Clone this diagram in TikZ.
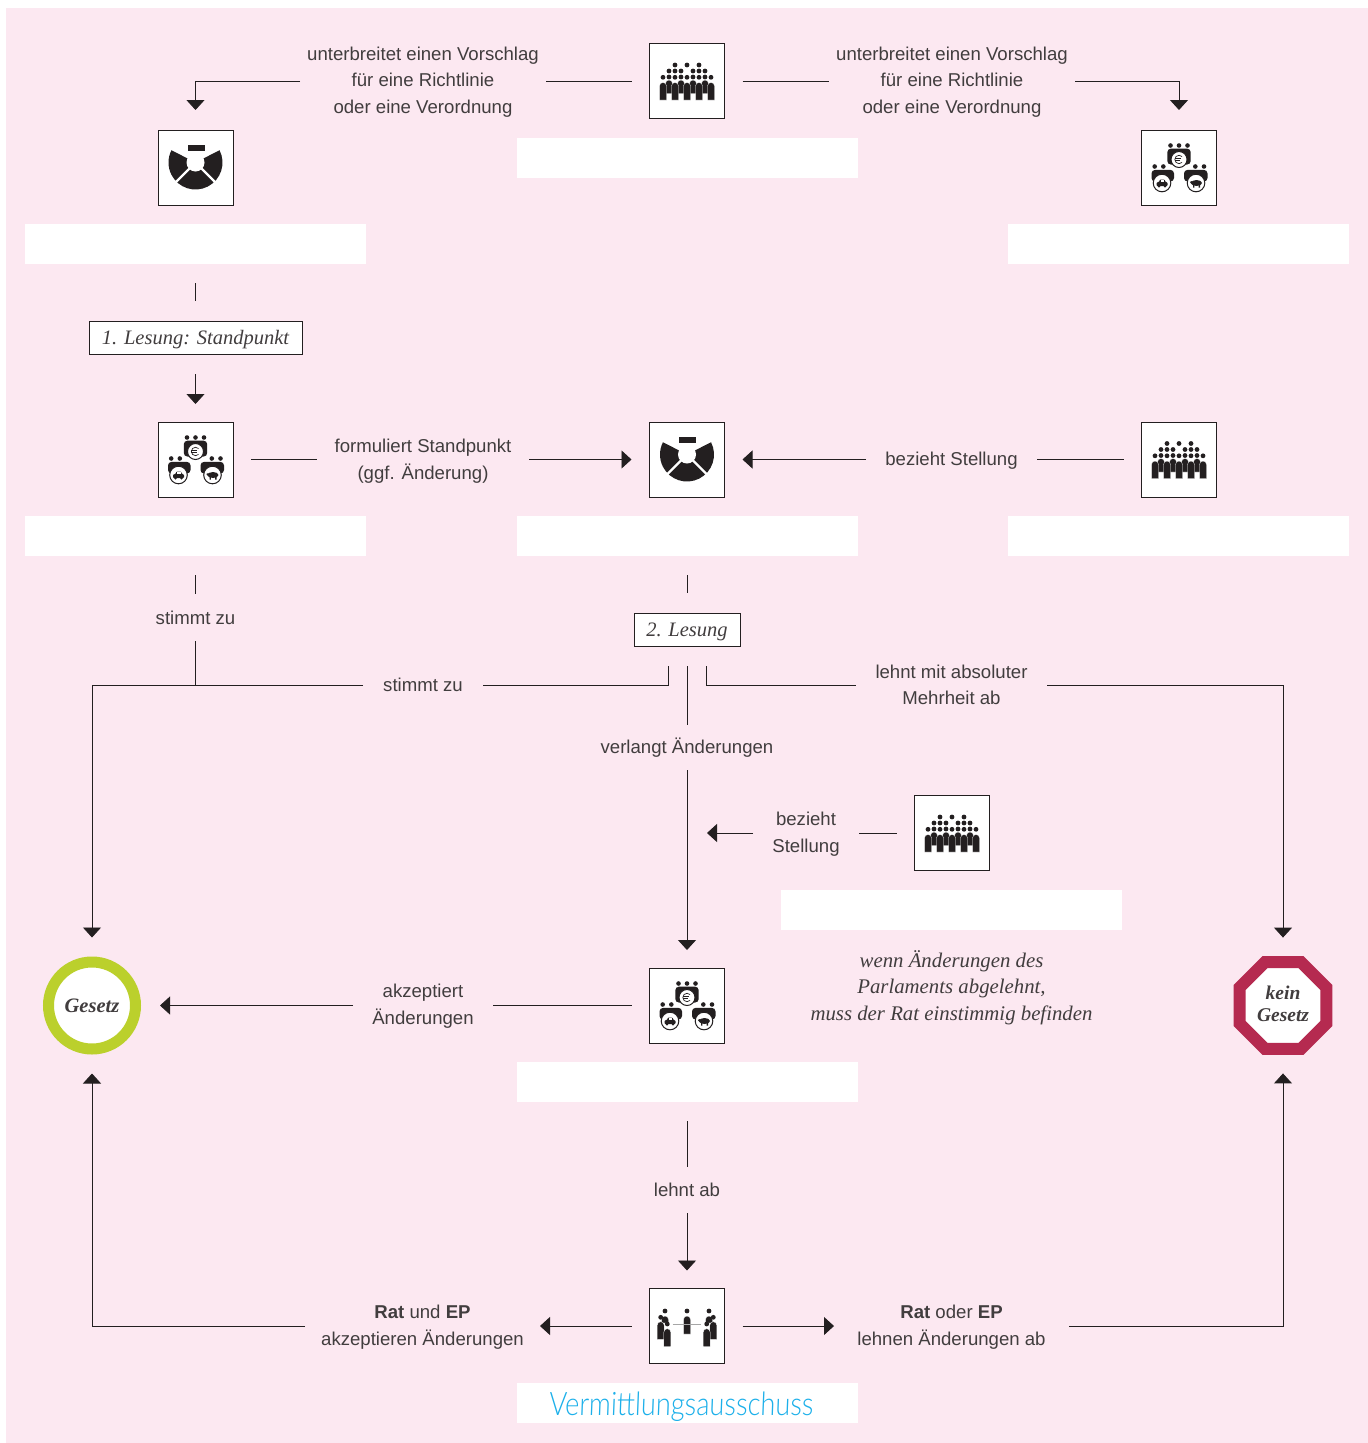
\documentclass[tikz,border=0pt]{standalone}
\usepackage{fontspec}
\setmainfont{Liberation Sans}
\newfontfamily\serifit[Ligatures=TeX]{Liberation Serif}
\newfontfamily\hand[FakeSlant=0.04,FakeStretch=0.84]{Lato Light}
\usetikzlibrary{arrows.meta,shapes.geometric}
\definecolor{ink}{HTML}{231F20}
\definecolor{txt}{HTML}{413D3E}
\definecolor{page}{HTML}{FCE8F1}
\definecolor{lime}{HTML}{BBD02C}
\definecolor{wine}{HTML}{B52A50}
\definecolor{sky}{HTML}{1CB0EA}
\newcommand\fgr[4]{%
  \fill[ink] (#1,#2) circle (2.4);
  \filldraw[ink,draw=white,line width=0.3pt] (#1-3.5,#4) -- (#1-3.5,#3+3.5) arc[start angle=180,end angle=360,radius=3.5] -- (#1+3.5,#4) -- cycle;
}
\tikzset{
  iconbox/.style={draw=ink,line width=0.9pt,fill=white,minimum width=75pt,minimum height=75pt,inner sep=0pt,outer sep=18pt},
  namebox/.style={fill=white,minimum width=341pt,minimum height=40pt,inner sep=0pt,outer sep=19pt},
  lbl/.style={inner sep=0pt,outer sep=0pt,align=center,text=txt,font=\fontsize{18.6}{26.6}\selectfont},
  note/.style={inner sep=0pt,outer sep=0pt,align=center,text=txt,font=\serifit\itshape\fontsize{20.8}{26.6}\selectfont},
  stage/.style={draw=ink,line width=0.9pt,fill=white,inner sep=0pt,outer sep=20pt,text=txt,text height=17.5pt,text depth=4pt,font=\serifit\itshape\fontsize{20.5}{24}\selectfont},
  link/.style={draw=ink,line width=0.9pt},
  arr/.style={link,-{Triangle[width=18pt,length=10pt]}},
  parl/.pic={
    \foreach \x in {-12,0,12} {\fill[ink] (\x,-16) circle (2.4);}
    \foreach \x in {-18,-12,-6,6,12,18} {\fill[ink] (\x,-10) circle (2.4);}
    \foreach \x in {-18,-6,6,18} {\fgr{\x}{-4}{-1}{12.5}}
    \foreach \x in {-24,-12,0,12,24} {\fgr{\x}{-3.7}{1.5}{19}}
  },
  council/.pic={
    \begin{scope}[shift={(0,-5)}]
      \fill[ink] (0,0) -- (-27:27) arc[start angle=-27,end angle=207,radius=27] -- cycle;
      \draw[white,line width=2.2pt] (45:6) -- (45:30) (135:6) -- (135:30);
      \fill[white] (0,0) circle (9);
    \end{scope}
    \fill[ink] (-8,-22.5) rectangle (9,-16.7);
  },
  wsa/.pic={
    \foreach \x in {-8.5,0,8.5} {\fill[ink] (\x,-22) circle (2.3);}
    \fill[ink,rounded corners=3.5pt] (-11.7,-3) rectangle (11.7,-18.8);
    \foreach \x in {-24.3,-15.7,16.3,25} {\fill[ink] (\x,-1) circle (2.3);}
    \fill[ink,rounded corners=3.5pt] (-27.5,14) rectangle (-5,2.4);
    \fill[ink,rounded corners=3.5pt] (5,14) rectangle (28.5,2.4);
    \filldraw[fill=white,draw=ink,line width=1pt] (0,-8) circle (8);
    \draw[ink,line width=0.7pt] (3,-11) arc[start angle=-45,end angle=-315,radius=4.2];
    \draw[ink,line width=0.5pt] (-4.2,-9) -- (1.5,-9) (-4.2,-7.4) -- (1.2,-7.4);
    \filldraw[fill=white,draw=ink,line width=1pt] (-17,15.5) circle (8.8);
    \fill[ink,rounded corners=0.8pt] (-22.5,18.5) -- (-22.5,15) -- (-20,14.5) -- (-19,12) -- (-14.5,12) -- (-13.5,14.5) -- (-11.5,15) -- (-11.5,18.5) -- cycle;
    \fill[white] (-18.3,12.8) rectangle (-15,14.5);
    \fill[ink] (-20,18.8) circle (1.3) (-14,18.8) circle (1.3);
    \filldraw[fill=white,draw=ink,line width=1pt] (17,15.5) circle (8.8);
    \fill[ink] (17.5,15.5) ellipse (5.5 and 3);
    \fill[ink] (10.8,14.5) -- (13,13.5) -- (13,17) -- cycle;
    \fill[ink] (14,17) rectangle (15.4,20) (19.6,17) rectangle (21,20);
  },
  concil/.pic={
    \fgr{-22}{-15}{-10}{-3}
    \fgr{22}{-15}{-10}{-3}
    \fgr{-26.3}{-8.7}{-4.3}{13.3}
    \fgr{26.3}{-8.7}{-4.3}{13.3}
    \fgr{0}{-15}{-10}{8}
    \draw[gray!70,line width=1pt] (-14.3,-1.7) -- (14.3,-1.7);
    \fgr{-19.7}{-2}{2.7}{20.7}
    \fgr{19.7}{-2}{2.7}{20.7}
  }
}
\begin{document}
\begin{tikzpicture}[x=1pt,y=-1pt]
\useasboundingbox (0,0) rectangle (1368,1443);
\fill[page] (6,8) rectangle (1368,1443);

% icon boxes
\node[iconbox] (kom) at (687,81) {};
\node[iconbox] (ratA) at (195.5,167.5) {};
\node[iconbox] (wsaA) at (1179,167.5) {};
\node[iconbox] (wsaB) at (195.5,459.5) {};
\node[iconbox] (ratB) at (687,459.5) {};
\node[iconbox] (komB) at (1179,459.5) {};
\node[iconbox] (komC) at (952,833) {};
\node[iconbox] (wsaC) at (687,1005.5) {};
\node[iconbox] (verm) at (687,1326) {};
\pic at (kom) {parl};
\pic at (komB) {parl};
\pic at (komC) {parl};
\pic at (ratA) {council};
\pic at (ratB) {council};
\pic at (wsaA) {wsa};
\pic at (wsaB) {wsa};
\pic at (wsaC) {wsa};
\pic at (verm) {concil};

% name boxes
\node[namebox] (nKom) at (687.5,158) {};
\node[namebox] (nRatA) at (195.5,244) {};
\node[namebox] (nWsaA) at (1178.5,244) {};
\node[namebox] (nWsaB) at (195.5,536) {};
\node[namebox] (nRatB) at (687.5,536) {};
\node[namebox] (nKomB) at (1178.5,536) {};
\node[namebox] (nKomC) at (951.5,910) {};
\node[namebox] (nWsaC) at (687.5,1082) {};
\node[namebox] (nVerm) at (687.5,1403) {};
\node[inner sep=0pt,text=sky,font=\hand\fontsize{32.4}{34}\selectfont] (vname) at (681,1407) {Vermittlungsausschuss};

% stage boxes
\node[stage,minimum width=213pt,minimum height=33pt] (l1) at (195.5,337.5) {1. Lesung: Standpunkt};
\node[stage,minimum width=106pt,minimum height=33pt] (l2) at (687,629.5) {2. Lesung};

% labels
\node[lbl,minimum width=246pt] (vorL) at (423,82) {unterbreitet einen Vorschlag\\für eine Richtlinie\\oder eine Verordnung};
\node[lbl,minimum width=246pt] (vorR) at (952,82) {unterbreitet einen Vorschlag\\für eine Richtlinie\\oder eine Verordnung};
\node[lbl,minimum width=212pt] (form) at (423,461) {formuliert Standpunkt\\(ggf. Änderung)};
\node[lbl,minimum width=171pt] (bezA) at (951.5,460.5) {bezieht Stellung};
\node[lbl,minimum height=47pt,minimum width=100pt] (stL) at (195.5,617.5) {stimmt zu};
\node[lbl,minimum width=120pt] (stM) at (423,685) {stimmt zu};
\node[lbl,minimum width=191pt] (lehnt) at (951.5,685) {lehnt mit absoluter\\Mehrheit ab};
\node[lbl,minimum height=45pt] (verl) at (687,747.5) {verlangt Änderungen};
\node[lbl,minimum width=106pt] (bezB) at (806,834) {bezieht\\Stellung};
\node[lbl,minimum width=140pt] (akz) at (423,1006) {akzeptiert\\Änderungen};
\node[lbl,minimum height=46pt] (ab) at (687,1190) {lehnt ab};
\node[lbl,minimum width=235pt] (ratund) at (422.5,1327) {\textbf{Rat} und \textbf{EP}\\akzeptieren Änderungen};
\node[lbl,minimum width=235pt] (ratoder) at (951.5,1327) {\textbf{Rat} oder \textbf{EP}\\lehnen Änderungen ab};
\node[note] (wenn) at (951.5,987.5) {wenn Änderungen des\\Parlaments abgelehnt,\\muss der Rat einstimmig befinden};

% end states
\node[circle,draw=lime,line width=11pt,fill=white,minimum size=87pt,inner sep=0pt,outer sep=0pt,text=txt,font=\serifit\itshape\bfseries\fontsize{20.5}{22}\selectfont] (ges) at (92,1005.5) {Gesetz};
\node[regular polygon,regular polygon sides=8,draw=wine,line width=12pt,fill=white,minimum size=94pt,inner sep=0pt,outer sep=0pt] (kein) at (1283,1005.5) {};
\node[inner sep=0pt,align=center,text=txt,font=\serifit\itshape\bfseries\fontsize{19.5}{21.5}\selectfont] (keinT) at (1283,1004) {kein\\Gesetz};

% free ends
\coordinate (l2a) at (668,666);
\coordinate (l2b) at (706,666);
\coordinate (bezT) at (707,833);

% connectors
\draw[link] (kom.west) -- (vorL.east |- kom.west);
\draw[arr,shorten >=2pt] (vorL.west |- kom.west) -| (ratA.north);
\draw[link] (kom.east) -- (vorR.west |- kom.east);
\draw[arr,shorten >=2pt] (vorR.east |- kom.east) -| (wsaA.north);
\draw[link] (nRatA.south) -- (l1.north);
\draw[arr] (l1.south) -- (wsaB.north);
\draw[link] (wsaB.east) -- (form.west |- wsaB.east);
\draw[arr] (form.east |- ratB.west) -- (ratB.west);
\draw[link] (komB.west) -- (bezA.east |- komB.west);
\draw[arr] (bezA.west |- ratB.east) -- (ratB.east);
\draw[link] (nWsaB.south) -- (stL.north);
\draw[link] (stL.south) -- (stL.south |- stM.west);
\draw[arr,shorten >=24.5pt] (stM.west) -| (ges.north);
\draw[link] (l2a) |- (stM.east);
\draw[link] (l2.north |- nRatB.south) -- (l2.north);
\draw[link] (l2.south) -- (verl.north);
\draw[arr] (verl.south) -- (wsaC.north);
\draw[link] (l2b) |- (lehnt.west);
\draw[arr,shorten >=24.5pt] (lehnt.east) -| (kein.north);
\draw[link] (komC.west) -- (bezB.east |- komC.west);
\draw[arr] (bezB.west |- komC.west) -- (bezT);
\draw[link] (wsaC.west) -- (akz.east |- wsaC.west);
\draw[arr,shorten >=24.5pt] (akz.west |- wsaC.west) -- (ges.east);
\draw[link] (ab.north |- nWsaC.south) -- (ab.north);
\draw[arr] (ab.south) -- (verm.north);
\draw[arr] (verm.west) -- (ratund.east |- verm.west);
\draw[arr] (verm.east) -- (ratoder.west |- verm.east);
\draw[arr,shorten >=24.5pt] (ratund.west |- verm.west) -| (ges.south);
\draw[arr,shorten >=24.5pt] (ratoder.east |- verm.east) -| (kein.south);
\end{tikzpicture}
\end{document}
